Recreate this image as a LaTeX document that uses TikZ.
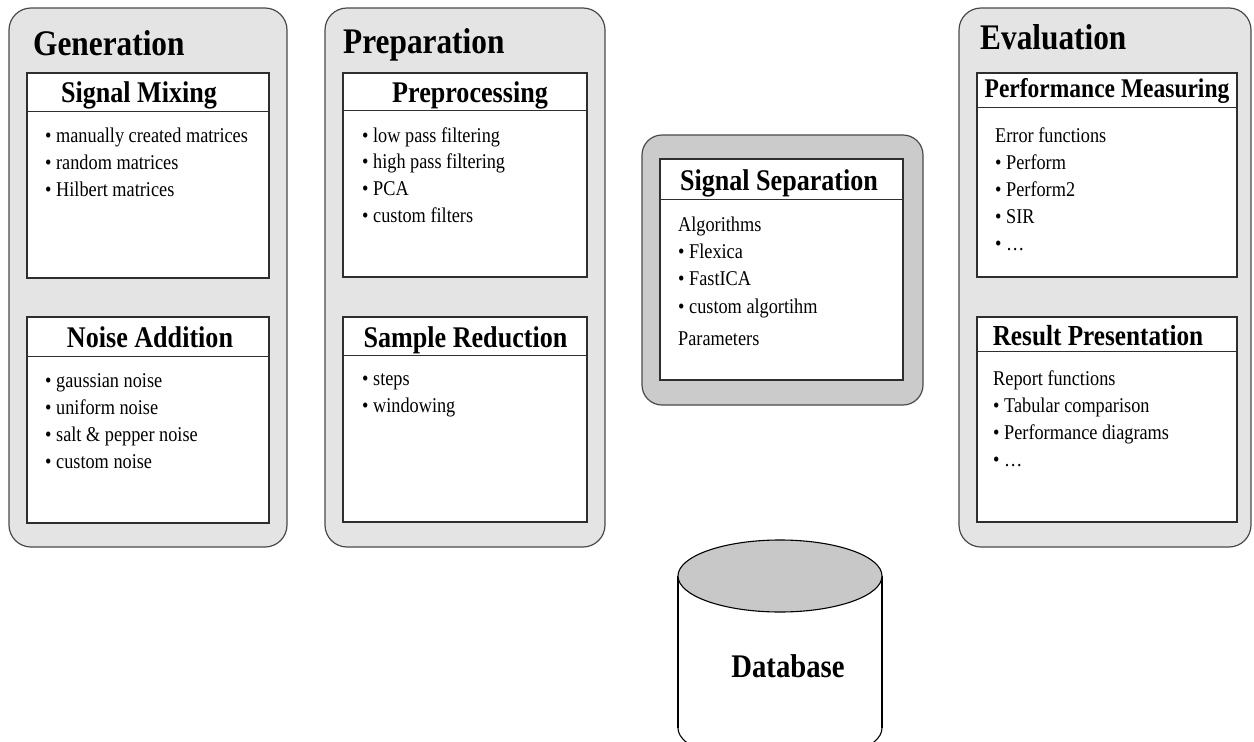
\documentclass[tikz,border=0pt]{standalone}
\usepackage{fontspec}
\setmainfont{Liberation Serif}[FakeStretch=0.87]
\definecolor{panelfill}{HTML}{E4E4E4}
\definecolor{ssfill}{HTML}{CBCBCB}
\definecolor{panelline}{HTML}{4A4A4A}
\definecolor{boxline}{HTML}{2E2E2E}
\definecolor{dbfill}{HTML}{C8C8C8}
\tikzset{
  panel/.style={draw=panelline, line width=1.2pt, fill=panelfill, rounded corners=22pt, inner sep=0pt},
  sspanel/.style={panel, fill=ssfill, rounded corners=20pt},
  box/.style={draw=boxline, line width=1.3pt, fill=white, inner sep=0pt},
  headrule/.style={draw=boxline, line width=1.2pt},
  title/.style={font=\fontsize{36}{40}\bfseries\selectfont, inner sep=0pt, anchor=base west},
  head/.style={font=\fontsize{30}{34}\bfseries\selectfont, inner sep=0pt, anchor=base},
  item/.style={font=\fontsize{21}{25}\selectfont, inner sep=0pt, anchor=base west},
  dbtext/.style={font=\fontsize{33}{36}\bfseries\selectfont, inner sep=0pt, anchor=base},
}
\begin{document}
\begin{tikzpicture}[x=1pt,y=-1pt]
\path[use as bounding box] (0,0) rectangle (1254,742);
\clip (0,0) rectangle (1254,742);
\fill[white] (0,0) rectangle (1254,742);

% ---- outer panels
\node[panel, minimum width=278pt, minimum height=539pt] (gen) at (148,277.5) {};
\node[panel, minimum width=280pt, minimum height=539pt] (prep) at (465,277.5) {};
\node[panel, minimum width=292pt, minimum height=539pt] (eval) at (1105,277.5) {};
\node[sspanel, minimum width=281pt, minimum height=270pt] (sep) at (782.5,270) {};

% ---- panel titles
\node[title] (gentitle) at (33,55) {Generation};
\node[title] (preptitle) at (343,53) {Preparation};
\node[title] (evaltitle) at (980,49) {Evaluation};

% ---- inner boxes
\node[box, minimum width=242pt, minimum height=205pt] (mix) at (148,175.5) {};
\node[box, minimum width=242pt, minimum height=206pt] (noise) at (148,420) {};
\node[box, minimum width=244pt, minimum height=204pt] (pre) at (465,175) {};
\node[box, minimum width=244pt, minimum height=205pt] (samp) at (465,419.5) {};
\node[box, minimum width=243pt, minimum height=221pt] (ss) at (781.5,269.5) {};
\node[box, minimum width=260pt, minimum height=204pt] (perf) at (1107,175) {};
\node[box, minimum width=260pt, minimum height=205pt] (res) at (1107,419.5) {};

% ---- header separators
\draw[headrule] ([yshift=-39pt]mix.north west) -- ([yshift=-39pt]mix.north east);
\draw[headrule] ([yshift=-40pt]noise.north west) -- ([yshift=-40pt]noise.north east);
\draw[headrule] ([yshift=-38pt]pre.north west) -- ([yshift=-38pt]pre.north east);
\draw[headrule] ([yshift=-39pt]samp.north west) -- ([yshift=-39pt]samp.north east);
\draw[headrule] ([yshift=-41pt]ss.north west) -- ([yshift=-41pt]ss.north east);
\draw[headrule] ([yshift=-35pt]perf.north west) -- ([yshift=-35pt]perf.north east);
\draw[headrule] ([yshift=-35pt]res.north west) -- ([yshift=-35pt]res.north east);

% ---- header texts
\node[head] (mixhead) at (139,102) {Signal Mixing};
\node[head] (noisehead) at (150,347) {Noise Addition};
\node[head] (prehead) at (470,102) {Preprocessing};
\node[head] (samphead) at (465.5,347) {Sample Reduction};
\node[head] (sshead) at (779,190) {Signal Separation};
\node[head, font=\fontsize{27}{31}\bfseries\selectfont] (perfhead) at (1107,97) {Performance Measuring};
\node[head, font=\fontsize{29}{33}\bfseries\selectfont] (reshead) at (1098,345) {Result Presentation};

% ---- list contents
\foreach \t [count=\i] in {manually created matrices, random matrices, Hilbert matrices}
  \node[item] (mix\i) at ({45},{142+27.3*(\i-1)}) {\textbullet\ \t};
\foreach \t [count=\i] in {gaussian noise, uniform noise, salt \& pepper noise, custom noise}
  \node[item] (noise\i) at ({45},{387+27*(\i-1)}) {\textbullet\ \t};
\foreach \t [count=\i] in {low pass filtering, high pass filtering, PCA, custom filters}
  \node[item] (pre\i) at ({362},{142+26.7*(\i-1)}) {\textbullet\ \t};
\foreach \t [count=\i] in {steps, windowing}
  \node[item] (samp\i) at ({362},{385+27*(\i-1)}) {\textbullet\ \t};

\node[item] (alg) at (678,231) {Algorithms};
\foreach \t [count=\i] in {Flexica, FastICA, custom algortihm}
  \node[item] (alg\i) at ({678},{258+27.5*(\i-1)}) {\textbullet\ \t};
\node[item] (param) at (678,345) {Parameters};

\node[item] (errf) at (995,142) {Error functions};
\foreach \t [count=\i] in {Perform, Perform2, SIR, \ldots}
  \node[item] (err\i) at ({995},{169+27*(\i-1)}) {\textbullet\ \t};
\node[item] (repf) at (993,385) {Report functions};
\foreach \t [count=\i] in {Tabular comparison, Performance diagrams, \ldots}
  \node[item] (rep\i) at ({993},{412+27*(\i-1)}) {\textbullet\ \t};

% ---- database cylinder
\draw[line width=1.1pt, fill=white] (780,728) ellipse [x radius=102, y radius=36];
\fill[white] (678,576) rectangle (882,728);
\draw[line width=1.1pt] (678,576) -- (678,728);
\draw[line width=1.1pt] (882,576) -- (882,728);
\draw[line width=1.1pt, fill=dbfill] (780,576) ellipse [x radius=102, y radius=36];
\node[dbtext] (db) at (788,677) {Database};
\end{tikzpicture}
\end{document}
